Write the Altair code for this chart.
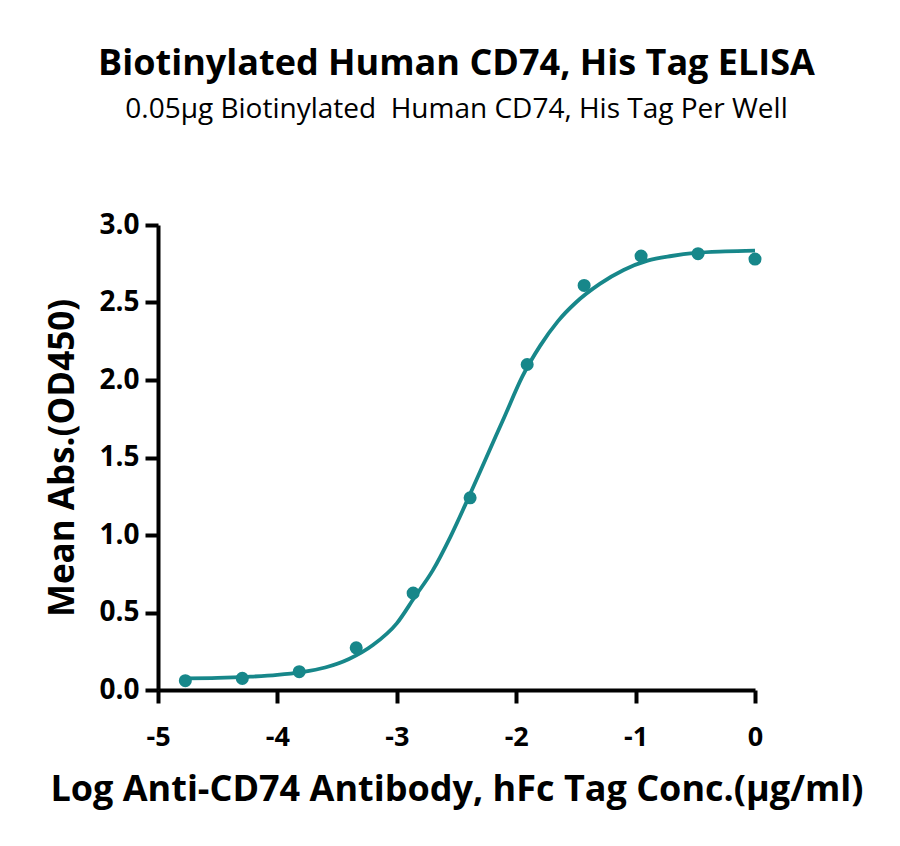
import altair as alt
import pandas as pd

# measured points (log10 concentration, mean OD450)
log_conc = [-4.771, -4.294, -3.817, -3.340, -2.863, -2.386, -1.908, -1.431, -0.954, -0.477, 0.0]
od450 = [0.06, 0.075, 0.118, 0.272, 0.625, 1.24, 2.10, 2.61, 2.80, 2.815, 2.78]

# fitted curve
curve_x = [-4.77, -4.5, -4.25, -4.0, -3.8, -3.6, -3.4, -3.2, -3.0, -2.85, -2.7, -2.55, -2.4,
           -2.25, -2.1, -1.95, -1.8, -1.65, -1.5, -1.3, -1.1, -0.9, -0.7, -0.5, -0.25, 0.0]
curve_y = [0.075, 0.078, 0.085, 0.097, 0.115, 0.145, 0.20, 0.29, 0.43, 0.60, 0.77, 0.99, 1.24,
           1.50, 1.76, 2.02, 2.22, 2.38, 2.50, 2.62, 2.71, 2.77, 2.80, 2.82, 2.83, 2.835]

pts = pd.DataFrame({"x": log_conc, "y": od450})
crv = pd.DataFrame({"x": curve_x, "y": curve_y})

teal = "#17878a"
FONT = "Open Sans"

xscale = alt.Scale(domain=[-5, 0], nice=False, zero=False)
yscale = alt.Scale(domain=[0, 3], nice=False)

xaxis = alt.Axis(title="Log Anti-CD74 Antibody, hFc Tag Conc.(μg/ml)", values=[-5, -4, -3, -2, -1, 0],
                 labelExpr="datum.value == 0 ? '0' : '-' + abs(datum.value)",
                 grid=False, domainColor="black", domainWidth=4, tickColor="black",
                 tickWidth=4, tickSize=13, labelFont=FONT, labelFontSize=27, labelFontWeight="bold",
                 labelColor="black", labelPadding=21, titleFont=FONT, titleFontSize=36,
                 titleFontWeight="bold", titleColor="black", titlePadding=22, labelFlush=False)
yaxis = alt.Axis(title="Mean Abs.(OD450)", values=[0, 0.5, 1, 1.5, 2, 2.5, 3], format=".1f",
                 grid=False, domainColor="black", domainWidth=4, tickColor="black", tickWidth=4,
                 tickSize=13, labelFont=FONT, labelFontSize=28, labelFontWeight="bold",
                 labelColor="black", labelPadding=6, titleFont=FONT, titleFontSize=35,
                 titleFontWeight="bold", titleColor="black", titlePadding=18, labelFlush=False)

line = alt.Chart(crv).mark_line(color=teal, strokeWidth=3.8, interpolate="monotone").encode(
    x=alt.X("x:Q", scale=xscale, axis=xaxis),
    y=alt.Y("y:Q", scale=yscale, axis=yaxis),
)
dots = alt.Chart(pts).mark_circle(color=teal, size=170, opacity=1).encode(
    x=alt.X("x:Q", scale=xscale),
    y=alt.Y("y:Q", scale=yscale),
)

chart = alt.layer(line, dots).properties(
    width=597, height=465,
    background="white",
    title=alt.TitleParams(
        text="Biotinylated Human CD74, His Tag ELISA",
        subtitle="0.05μg Biotinylated\u00a0 Human CD74, His Tag Per Well",
        font=FONT, fontSize=36, fontWeight="bold", color="black",
        subtitleFont=FONT, subtitleFontSize=28, subtitleFontWeight="normal", subtitleColor="black",
        subtitlePadding=13, anchor="middle", offset=86,
    ),
    autosize=alt.AutoSizeParams(type="none"),
    padding={"left": 150, "top": 217, "right": 137, "bottom": 148},
).configure_view(stroke="transparent", strokeWidth=0)

chart.save("out.html", embed_options={"renderer": "svg", "actions": False})
